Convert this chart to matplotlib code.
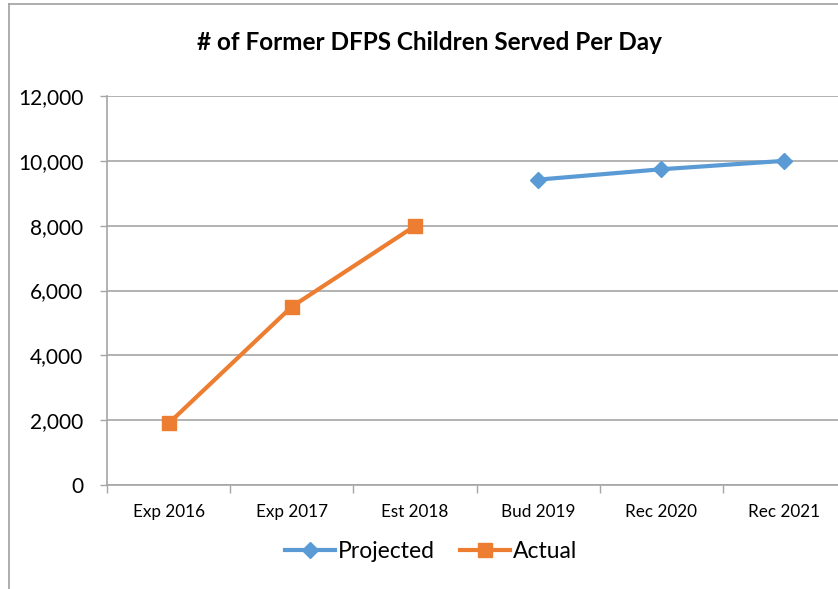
import matplotlib
matplotlib.use("Agg")
import matplotlib.pyplot as plt
from matplotlib.lines import Line2D
from matplotlib.ticker import FuncFormatter, MultipleLocator

categories = ["Exp 2016", "Exp 2017", "Est 2018", "Bud 2019", "Rec 2020", "Rec 2021"]
actual = [1900, 5500, 7990, None, None, None]
projected = [None, None, None, 9420, 9740, 10000]

BLUE = "#5B9BD5"
ORANGE = "#ED7D31"
GRID = "#A6A6A6"

plt.rcParams["font.family"] = ["Lato", "DejaVu Sans"]

W, H = 838, 589
fig = plt.figure(figsize=(W / 100, H / 100), dpi=100)
ax = fig.add_axes([107 / W, 1 - 485 / H, (846 - 107) / W, (485 - 96) / H])

x = list(range(len(categories)))
ax_x = [i for i, v in zip(x, actual) if v is not None]
ax_y = [v for v in actual if v is not None]
px_x = [i for i, v in zip(x, projected) if v is not None]
px_y = [v for v in projected if v is not None]

ax.plot(px_x, px_y, color=BLUE, lw=3, marker="D", ms=8, zorder=3, clip_on=False)
ax.plot(ax_x, ax_y, color=ORANGE, lw=3, marker="s", ms=10, zorder=3, clip_on=False)

ax.set_xlim(-0.5, len(categories) - 0.5)
ax.set_ylim(0, 12000)
ax.yaxis.set_major_locator(MultipleLocator(2000))
ax.yaxis.set_major_formatter(FuncFormatter(lambda v, p: f"{int(v):,}"))
ax.grid(axis="y", color=GRID, lw=1.2)
ax.set_axisbelow(True)

ax.set_xticks([i - 0.5 for i in range(len(categories) + 1)])
ax.set_xticklabels([])
ax.set_xticks(x, minor=True)
ax.set_xticklabels(categories, minor=True, fontsize=12.3)
ax.tick_params(axis="x", which="major", length=6, color=GRID, width=1)
ax.tick_params(axis="x", which="minor", length=0, pad=14)
ax.tick_params(axis="y", length=5, color=GRID, width=1, labelsize=15, pad=12)

for s in ["top", "right"]:
    ax.spines[s].set_visible(False)
ax.spines["left"].set_color(GRID)
ax.spines["bottom"].set_color(GRID)
ax.spines["left"].set_linewidth(1.2)
ax.spines["bottom"].set_linewidth(1.2)

fig.text(429 / W, 1 - 43 / H, "# of Former DFPS Children Served Per Day",
         ha="center", va="center", fontsize=17.5, fontweight="bold")

handles = [
    Line2D([], [], color=BLUE, lw=3, marker="D", ms=8),
    Line2D([], [], color=ORANGE, lw=3, marker="s", ms=10),
]
fig.legend(handles, ["Projected", "Actual"], loc="center", bbox_to_anchor=(431 / W, 1 - 552 / H),
           ncol=2, frameon=False, fontsize=16.5, handlelength=2.2, handletextpad=0.1,
           columnspacing=1.1)

# frame lines around the chart area
fig.add_artist(Line2D([9 / W, 9 / W], [0, 1 - 4 / H], transform=fig.transFigure, color="#A0A0A0", lw=1.2))
fig.add_artist(Line2D([9 / W, 1], [1 - 4 / H, 1 - 4 / H], transform=fig.transFigure, color="#A0A0A0", lw=1.2))

fig.savefig("out.png", dpi=100)
